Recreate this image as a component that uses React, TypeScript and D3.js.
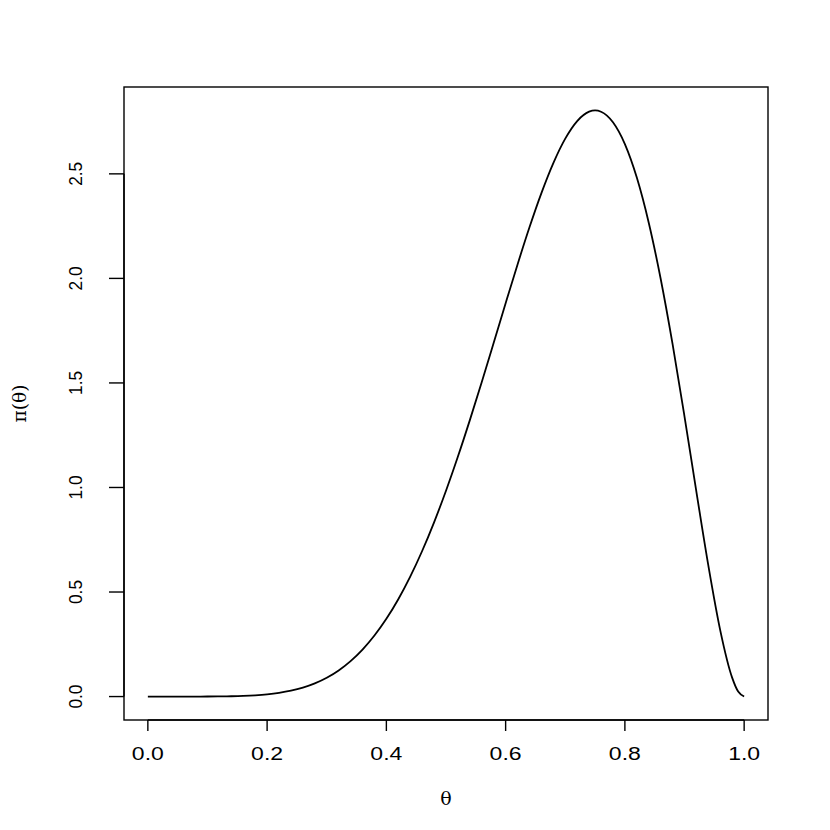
import * as d3 from "d3";
import React from "react";

// θ grid and density values
const thetas = [
  0, 0.02, 0.04, 0.06, 0.08, 0.1, 0.12, 0.14, 0.16, 0.18, 0.2, 0.22, 0.24,
  0.26, 0.28, 0.3, 0.32, 0.34, 0.36, 0.38, 0.4, 0.42, 0.44, 0.46, 0.48, 0.5,
  0.52, 0.54, 0.56, 0.58, 0.6, 0.62, 0.64, 0.66, 0.68, 0.7, 0.72, 0.74, 0.75,
  0.76, 0.78, 0.8, 0.82, 0.84, 0.86, 0.88, 0.9, 0.92, 0.94, 0.96, 0.98, 0.99,
  1,
];
const density = [
  0, 0, 0, 0, 0.0001, 0.0002, 0.0006, 0.0014, 0.003, 0.0058, 0.0103, 0.0174,
  0.0278, 0.0426, 0.063, 0.09, 0.1251, 0.1696, 0.2247, 0.2917, 0.3716, 0.4653,
  0.5734, 0.6962, 0.8334, 0.9844, 1.1479, 1.3221, 1.5046, 1.6923, 1.8812,
  2.0669, 2.2443, 2.4078, 2.5513, 2.6683, 2.7524, 2.7973, 2.8033, 2.7971,
  2.7467, 2.6424, 2.4821, 2.2663, 1.9982, 1.6852, 1.3392, 0.9779, 0.6258,
  0.3156, 0.0893, 0.0237, 0,
];
const xTicks = ["0.0", "0.2", "0.4", "0.6", "0.8", "1.0"];
const yTicks = ["0.0", "0.5", "1.0", "1.5", "2.0", "2.5"];

export default function App() {
  const left = 124;
  const right = 768;
  const top = 87;
  const bottom = 720;

  const xMin = d3.min(thetas) as number;
  const xMax = d3.max(thetas) as number;
  const yMin = d3.min(density) as number;
  const yMax = d3.max(density) as number;
  const xPad = (xMax - xMin) * 0.04;
  const yPad = (yMax - yMin) * 0.04;

  const x = d3.scaleLinear().domain([xMin - xPad, xMax + xPad]).range([left, right]);
  const y = d3.scaleLinear().domain([yMin - yPad, yMax + yPad]).range([bottom, top]);

  const line = d3
    .line<number>()
    .x((_, i) => x(thetas[i]))
    .y((d) => y(d))
    .curve(d3.curveMonotoneX);

  const font = "'Liberation Sans', Arial, Helvetica, sans-serif";

  return (
    <svg
      width={830}
      height={830}
      style={{ position: "absolute", left: 0, top: 0, background: "white" }}
    >
      <rect x={0} y={0} width={830} height={830} fill="white" />
      {/* plot box */}
      <rect
        x={left}
        y={top}
        width={right - left}
        height={bottom - top}
        fill="none"
        stroke="black"
        strokeWidth={1.4}
      />
      {/* curve */}
      <path d={line(density) || ""} fill="none" stroke="black" strokeWidth={1.8} />

      {/* x axis */}
      <g>
        <line
          x1={x(+xTicks[0])}
          x2={x(+xTicks[xTicks.length - 1])}
          y1={bottom}
          y2={bottom}
          stroke="black"
          strokeWidth={1.4}
        />
        {xTicks.map((t) => (
          <g key={t}>
            <line
              x1={x(+t)}
              x2={x(+t)}
              y1={bottom}
              y2={bottom + 11}
              stroke="black"
              strokeWidth={1.4}
            />
            <text
              x={x(+t)}
              y={760}
              textAnchor="middle"
              fontFamily={font}
              fontSize={17.5}
              textLength={32}
              lengthAdjust="spacingAndGlyphs"
            >
              {t}
            </text>
          </g>
        ))}
      </g>

      {/* y axis */}
      <g>
        <line
          x1={left}
          x2={left}
          y1={y(+yTicks[0])}
          y2={y(+yTicks[yTicks.length - 1])}
          stroke="black"
          strokeWidth={1.4}
        />
        {yTicks.map((t) => (
          <g key={t}>
            <line
              x1={left - 15}
              x2={left}
              y1={y(+t)}
              y2={y(+t)}
              stroke="black"
              strokeWidth={1.4}
            />
            <text
              transform={`translate(82, ${y(+t)}) rotate(-90)`}
              textAnchor="middle"
              fontFamily={font}
              fontSize={17.5}
              textLength={24}
              lengthAdjust="spacingAndGlyphs"
            >
              {t}
            </text>
          </g>
        ))}
      </g>

      {/* axis titles */}
      <text
        x={(left + right) / 2}
        y={805}
        textAnchor="middle"
        fontFamily="'DejaVu Serif', 'Liberation Serif', serif"
        fontSize={19}
      >
        θ
      </text>
      <text
        transform={`translate(26, ${(top + bottom) / 2}) rotate(-90)`}
        textAnchor="middle"
        fontFamily="'DejaVu Serif', 'Liberation Serif', serif"
        fontSize={19}
        textLength={38}
        lengthAdjust="spacingAndGlyphs"
      >
        π(θ)
      </text>
    </svg>
  );
}
